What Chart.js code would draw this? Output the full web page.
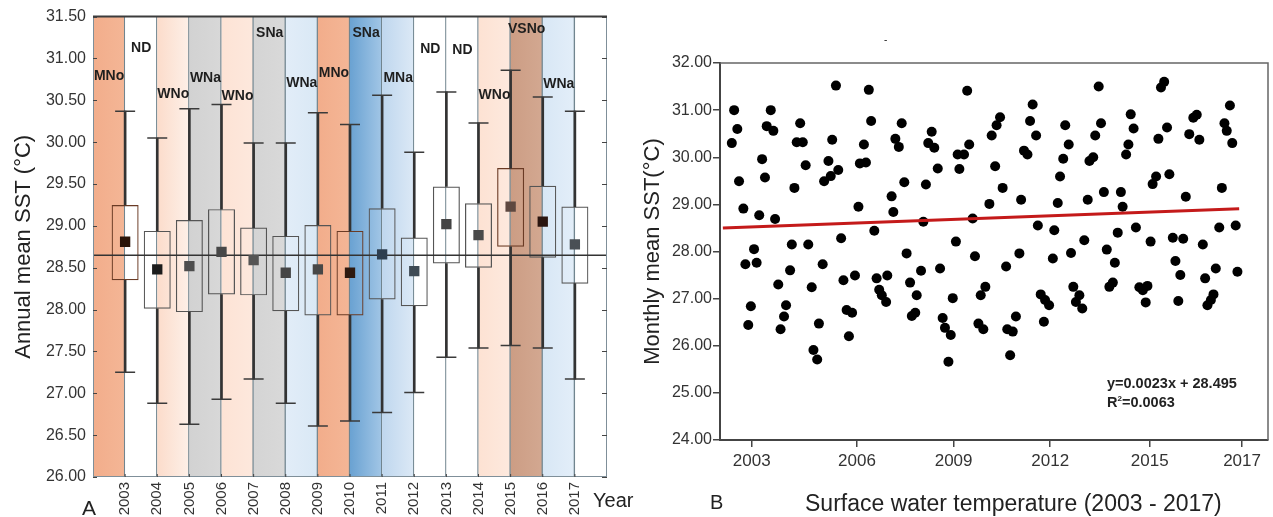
<!DOCTYPE html>
<html>
<head>
<meta charset="utf-8">
<title>SST 2003-2017</title>
<script src="https://cdn.jsdelivr.net/npm/chart.js@4.4.1/dist/chart.umd.min.js"></script>
<style>
  body { margin: 0; background: #fff; width: 1273px; height: 517px; overflow: hidden; position: relative;
         font-family: "Liberation Sans", Arial, sans-serif; color: #222; }
  canvas { position: absolute; top: 0; }
  #chartAnual { left: 0; }
  #chartMensual { left: 640px; }
  .txt { position: absolute; white-space: nowrap; line-height: 1; }
  .eq { font-weight: bold; font-size: 14.5px; line-height: 15px; }
</style>
</head>
<body>
<canvas id="chartAnual" width="640" height="517"></canvas>
<canvas id="chartMensual" width="633" height="517"></canvas>

<div class="txt" style="left:82px; top:497px; font-size:21px;">A</div>
<div class="txt" style="left:593px; top:490px; font-size:20px;">Year</div>
<div class="txt" style="left:710px; top:492px; font-size:20px;">B</div>
<div class="txt" style="left:805px; top:492px; font-size:23px;">Surface water temperature (2003 - 2017)</div>
<div class="txt eq" style="left:1107px; top:376px;">y=0.0023x + 28.495<br>R<sup style="font-size:8px;">2</sup>=0.0063</div>
<div class="txt" style="left:884px; top:35px; font-size:10px;">-</div>

<script>
Chart.defaults.font.family = '"Liberation Sans", Arial, sans-serif';

/* Panel A: annual mean SST per year */
const years = [2003, 2004, 2005, 2006, 2007, 2008, 2009, 2010, 2011, 2012, 2013, 2014, 2015, 2016, 2017];
const enso = ["MNo", "ND", "WNo", "WNa", "WNo", "SNa", "WNa", "MNo", "SNa", "MNa", "ND", "ND", "WNo", "VSNo", "WNa"];
const boxHigh = [29.25, 28.94, 29.07, 29.20, 28.98, 28.88, 29.01, 28.94, 29.21, 28.86, 29.47, 29.27, 29.69, 29.48, 29.23];
const boxLow = [28.35, 28.01, 27.97, 28.18, 28.17, 27.98, 27.93, 27.93, 28.12, 28.04, 28.55, 28.50, 28.75, 28.62, 28.31];
const whiskerHigh = [30.37, 30.05, 30.40, 30.45, 29.99, 29.99, 30.35, 30.21, 30.56, 29.88, 30.60, 30.23, 30.86, 30.54, 30.37];
const whiskerLow = [27.25, 26.88, 26.63, 26.93, 27.17, 26.88, 26.61, 26.67, 26.77, 27.01, 27.43, 27.54, 27.57, 27.54, 27.17];
const annualMean = [28.81, 28.48, 28.52, 28.69, 28.59, 28.44, 28.48, 28.44, 28.66, 28.46, 29.02, 28.89, 29.23, 29.05, 28.78];
const overallMean = 28.65;
const yMinA = 26, yMaxA = 31.5;

// altura (en °C) donde va cada etiqueta ENSO
const ensoLevel = [30.79, 31.12, 30.57, 30.76, 30.55, 31.30, 30.71, 30.83, 31.30, 30.77, 31.11, 31.10, 30.56, 31.35, 30.69];

// colores de fondo de cada franja (izquierda -> derecha)
const bandFill = [
  ["#f2ad8b", "#f4b696"], ["#ffffff", "#ffffff"], ["#fcdccb", "#fdf0e8"], ["#d2d2d2", "#d8d8d8"],
  ["#fde3d5", "#fde8dd"], ["#d4d4d4", "#d9d9d9"], ["#e2edf8", "#d9e8f5"], ["#f2ad8b", "#f4b696"],
  ["#6aa2d2", "#a2c6e6"], ["#bfd7ee", "#dce9f6"], ["#ffffff", "#ffffff"], ["#ffffff", "#ffffff"],
  ["#fde2d3", "#fde9de"], ["#cc9d84", "#d3a891"], ["#d8e7f5", "#e3eef9"]
];
const boxEdge = ["#6a3b25", "#555", "#555", "#555", "#555", "#555", "#555", "#6a3b25", "#555", "#555", "#555", "#555", "#6a3b25", "#555", "#555"];
const meanFill = ["#2b1408", "#1c1c1c", "#4d4d4d", "#474747", "#555555", "#454545", "#474747", "#2e1a10",
  "#2d3e50", "#3f4b55", "#444444", "#4a4a4a", "#5e4840", "#2a1510", "#4a4f55"];

const ensoLabels = {
  id: "ensoLabels",
  afterDatasetsDraw(chart) {
    const { ctx, scales: { x, y } } = chart;
    ctx.save();
    ctx.font = 'bold 14px "Liberation Sans", Arial, sans-serif';
    ctx.fillStyle = "#1e1e1e";
    ctx.textAlign = "center";
    ctx.textBaseline = "middle";
    years.forEach((yr, i) => {
      ctx.fillText(enso[i], x.getPixelForValue(yr - 0.5), y.getPixelForValue(ensoLevel[i]));
    });
    ctx.restore();
  }
};

// marco del panel A con marcas hacia dentro
const frameA = {
  id: "frameA",
  afterDraw(chart) {
    const { ctx, chartArea: a, scales: { x, y } } = chart;
    ctx.save();
    ctx.strokeStyle = "#7f8f99";
    ctx.lineWidth = 1;
    ctx.beginPath();
    ctx.moveTo(a.left + 0.5, a.top); ctx.lineTo(a.left + 0.5, a.bottom);
    ctx.moveTo(a.right - 0.5, a.top); ctx.lineTo(a.right - 0.5, a.bottom);
    ctx.moveTo(a.left, a.bottom - 0.5); ctx.lineTo(a.right, a.bottom - 0.5);
    ctx.stroke();
    ctx.strokeStyle = "#3c3c3c";
    ctx.lineWidth = 2;
    ctx.beginPath();
    ctx.moveTo(a.left, a.top); ctx.lineTo(a.right, a.top);
    ctx.stroke();
    ctx.strokeStyle = "#444";
    ctx.lineWidth = 1;
    ctx.beginPath();
    y.ticks.forEach(t => {
      const py = Math.round(y.getPixelForValue(t.value)) + 0.5;
      ctx.moveTo(a.left, py); ctx.lineTo(a.left + 4, py);
      ctx.moveTo(a.right - 5, py); ctx.lineTo(a.right, py);
    });
    years.forEach(yr => {
      const px = x.getPixelForValue(yr);
      ctx.moveTo(px, a.bottom - 3); ctx.lineTo(px, a.bottom);
    });
    ctx.stroke();
    ctx.restore();
  }
};

new Chart(document.getElementById("chartAnual"), {
  type: "bar",
  data: {
    datasets: [
      {
        // franjas ENSO de fondo
        data: years.map(yr => ({ x: yr - 0.5, y: [yMinA, yMaxA] })),
        backgroundColor: (c) => {
          const xs = c.chart.scales.x;
          const i = c.dataIndex;
          if (!xs || !xs.width) return bandFill[i][0];
          const g = c.chart.ctx.createLinearGradient(xs.getPixelForValue(years[i] - 1), 0, xs.getPixelForValue(years[i]), 0);
          g.addColorStop(0, bandFill[i][0]);
          g.addColorStop(1, bandFill[i][1]);
          return g;
        },
        borderColor: "#71858f",
        borderWidth: { left: 0, right: 1.5, top: 0, bottom: 0 },
        borderSkipped: false,
        grouped: false,
        barPercentage: 1,
        categoryPercentage: 1,
        order: 6
      },
      {
        // cajas
        data: years.map((yr, i) => ({ x: yr, y: [boxLow[i], boxHigh[i]] })),
        xAxisID: "xb",
        backgroundColor: "rgba(0,0,0,0)",
        borderColor: boxEdge,
        borderWidth: 1.2,
        borderSkipped: false,
        grouped: false,
        barPercentage: 0.84,
        categoryPercentage: 1,
        order: 5
      },
      {
        // bigotes
        data: years.flatMap((yr, i) => [
          { x: yr, y: [boxHigh[i], whiskerHigh[i]] },
          { x: yr, y: [whiskerLow[i], boxLow[i]] }
        ]),
        xAxisID: "xb",
        backgroundColor: "#333",
        barThickness: 2,
        grouped: false,
        order: 4
      },
      {
        type: "scatter",
        data: years.flatMap((yr, i) => [{ x: yr, y: whiskerHigh[i] }, { x: yr, y: whiskerLow[i] }]),
        xAxisID: "xb",
        pointStyle: "line",
        pointRadius: 10,
        pointBorderColor: "#3a3a3a",
        pointBorderWidth: 1.5,
        order: 3
      },
      {
        type: "line",
        data: [{ x: 2002, y: overallMean }, { x: 2018, y: overallMean }],
        xAxisID: "xb",
        borderColor: "#333",
        borderWidth: 1.5,
        pointRadius: 0,
        order: 2
      },
      {
        type: "scatter",
        data: years.map((yr, i) => ({ x: yr, y: annualMean[i] })),
        xAxisID: "xb",
        pointStyle: "rect",
        pointRadius: 7.3,
        pointBackgroundColor: meanFill,
        pointBorderWidth: 0,
        order: 1
      }
    ]
  },
  options: {
    responsive: false,
    animation: false,
    events: [],
    layout: { padding: { top: 15, right: 33, left: 0, bottom: 0 } },
    plugins: { legend: { display: false }, tooltip: { enabled: false } },
    scales: {
      x: {
        type: "linear", min: 2002, max: 2018, offset: false,
        afterBuildTicks: s => { s.ticks = years.map(v => ({ value: v })); },
        afterFit: s => { s.height = 40; },
        ticks: { font: { size: 15 }, color: "#333", padding: 5, minRotation: 90, maxRotation: 90, autoSkip: false,
                 callback: v => String(v) },
        grid: { display: false, drawTicks: false, offset: false },
        border: { display: false }
      },
      xb: {
        type: "linear", min: 2002, max: 2018, offset: false, display: false,
        ticks: { stepSize: 1 },
        grid: { offset: false }
      },
      y: {
        min: yMinA, max: yMaxA, beginAtZero: false,
        afterFit: s => { s.width = 93; },
        ticks: { stepSize: 0.5, callback: v => v.toFixed(2), font: { size: 16 }, color: "#333", padding: 7 },
        grid: { display: false, drawTicks: false },
        border: { display: false },
        title: { display: true, text: "Annual mean SST (°C)", font: { size: 22 }, color: "#222", padding: { top: 11, bottom: 0 } }
      }
    }
  },
  plugins: [ensoLabels, frameA]
});

/* Panel B: monthly mean SST, 2003-2017 */
const monthIdx = [4.1, 4.9, 6.0, 6.6, 8.1, 8.8, 9.8, 10.7, 11.8, 12.7,
  13.6, 14.6, 15.6, 16.2, 17.6, 18.5, 19.1, 20.2, 21.0, 22.2,
  22.9, 24.3, 24.9, 25.8, 26.6, 27.8, 28.7, 29.7, 30.6, 31.8,
  32.4, 33.7, 34.3, 35.6, 36.1, 37.6, 38.4, 38.9, 40.2, 41.0,
  42.0, 42.8, 43.9, 44.7, 45.8, 46.8, 48.0, 48.5, 49.9, 50.6,
  51.6, 52.4, 53.5, 54.3, 55.2, 56.1, 57.6, 58.0, 59.5, 60.1,
  60.8, 62.0, 63.0, 63.9, 64.7, 65.9, 66.5, 67.7, 68.2, 69.7,
  70.5, 71.4, 72.2, 73.4, 74.3, 75.5, 76.3, 77.2, 78.0, 79.2,
  80.0, 80.7, 81.8, 82.4, 83.0, 84.6, 85.7, 86.4, 87.6, 88.4,
  89.6, 90.4, 91.3, 92.0, 93.4, 94.2, 95.4, 95.9, 97.1, 98.0,
  99.2, 99.6, 100.6, 101.5, 102.6, 103.8, 104.4, 105.4, 106.6, 107.5,
  108.4, 109.6, 110.2, 111.2, 112.3, 112.7, 114.1, 115.4, 115.9, 117.1,
  117.9, 119.0, 119.7, 120.9, 121.7, 122.5, 123.4, 124.6, 125.6, 126.3,
  127.5, 128.1, 129.4, 130.1, 131.3, 132.1, 133.1, 134.1, 135.0, 136.2,
  136.9, 137.9, 139.0, 139.6, 140.8, 141.6, 142.4, 143.4, 144.2, 145.4,
  146.6, 147.6, 148.2, 149.3, 150.0, 151.2, 152.0, 152.9, 154.0, 155.0,
  155.8, 157.0, 157.9, 158.9, 159.6, 160.6, 161.5, 162.7, 164.1, 165.3,
  166.2, 167.4, 168.2, 169.0, 170.2, 171.1, 171.9, 173.1, 174.0, 174.9,
  175.7, 176.8, 177.6, 178.8, 179.4];
const monthlySST = [30.30, 31.00, 30.60, 29.49, 28.91, 27.73, 26.44, 26.84, 28.05, 27.76,
  28.77, 29.96, 29.57, 30.66, 31.00, 30.56, 28.69, 27.30, 26.35, 26.62,
  26.86, 27.60, 28.15, 29.35, 30.32, 30.72, 30.32, 29.83, 28.15, 27.24,
  25.91, 25.71, 26.47, 27.73, 29.49, 29.92, 29.60, 30.37, 31.52, 29.73,
  28.28, 27.39, 26.76, 26.20, 26.70, 27.49, 28.95, 29.87, 30.27, 29.89,
  31.43, 30.77, 28.44, 27.43, 27.19, 27.07, 26.93, 27.49, 29.17, 28.84,
  30.39, 30.22, 30.72, 29.47, 27.96, 27.34, 26.63, 26.70, 27.07, 27.59,
  28.63, 29.42, 30.30, 30.54, 30.20, 29.76, 27.64, 26.59, 26.38, 25.66,
  26.23, 27.01, 28.21, 30.06, 29.75, 30.06, 31.41, 30.27, 28.70, 27.90,
  26.47, 27.07, 26.35, 27.25, 29.01, 30.46, 29.81, 30.68, 30.85, 29.35,
  27.68, 26.35, 25.80, 26.30, 26.62, 27.96, 29.10, 30.14, 30.06, 30.77,
  31.12, 30.46, 28.55, 27.09, 26.51, 26.97, 26.86, 27.85, 28.45, 29.03,
  29.59, 29.97, 30.68, 30.27, 27.97, 27.25, 26.93, 27.07, 26.79, 28.24,
  29.10, 29.92, 30.00, 30.46, 31.50, 30.72, 29.26, 28.04, 27.25, 27.34,
  27.76, 28.40, 29.26, 28.95, 30.06, 30.27, 30.91, 30.61, 28.51, 27.24,
  27.18, 26.92, 27.27, 28.21, 29.43, 29.59, 30.39, 31.48, 31.60, 30.63,
  29.64, 28.29, 27.80, 26.95, 27.50, 28.27, 29.16, 30.49, 30.84, 30.90,
  30.37, 28.15, 27.43, 26.86, 26.97, 27.09, 27.64, 28.51, 29.35, 30.72,
  30.56, 31.10, 30.30, 28.55, 27.57];

// recta de tendencia y = 0.0023x + 28.495 (x = mes)
const trendSlope = 0.0023;
const trendIntercept = 28.495;
const trendMonths = [1, 180];

const yearTickPos = [11, 47.5, 81, 114.5, 149, 181];
const yearTickText = ["2003", "2006", "2009", "2012", "2015", "2017"];

const frameB = {
  id: "frameB",
  afterDraw(chart) {
    const { ctx, chartArea: a } = chart;
    ctx.save();
    ctx.strokeStyle = "#666";
    ctx.lineWidth = 1.5;
    ctx.beginPath();
    ctx.moveTo(a.left, a.top); ctx.lineTo(a.right, a.top); ctx.lineTo(a.right, a.bottom);
    ctx.stroke();
    ctx.restore();
  }
};

new Chart(document.getElementById("chartMensual"), {
  type: "scatter",
  data: {
    datasets: [
      {
        data: monthIdx.map((m, i) => ({ x: m, y: monthlySST[i] })),
        pointRadius: 5,
        pointBackgroundColor: "#000",
        pointBorderWidth: 0,
        order: 2
      },
      {
        type: "line",
        data: trendMonths.map(m => ({ x: m, y: trendIntercept + trendSlope * m })),
        borderColor: "#c41a1a",
        borderWidth: 3,
        pointRadius: 0,
        order: 1
      }
    ]
  },
  options: {
    responsive: false,
    animation: false,
    events: [],
    layout: { padding: { top: 63, right: 5, left: 0, bottom: 0 } },
    plugins: { legend: { display: false }, tooltip: { enabled: false } },
    scales: {
      x: {
        type: "linear", min: 0, max: 190,
        afterBuildTicks: s => { s.ticks = yearTickPos.map(v => ({ value: v })); },
        afterFit: s => { s.height = 77; },
        ticks: { callback: (v, i) => yearTickText[i], font: { size: 17 }, color: "#333", padding: 4, maxRotation: 0, autoSkip: false },
        grid: { drawOnChartArea: false, tickLength: 7, color: "#444", lineWidth: 1.5 },
        border: { color: "#444", width: 2 }
      },
      y: {
        min: 24, max: 32,
        afterFit: s => { s.width = 80; },
        ticks: { stepSize: 1, callback: v => v.toFixed(2), font: { size: 16 }, color: "#333", padding: 1 },
        grid: { drawOnChartArea: false, tickLength: 7, color: "#444", lineWidth: 1.5 },
        border: { color: "#444", width: 2 },
        title: { display: true, text: "Monthly mean SST(°C)", font: { size: 22 }, color: "#222", padding: { top: 0, bottom: 0 } }
      }
    }
  },
  plugins: [frameB]
});
</script>
</body>
</html>
